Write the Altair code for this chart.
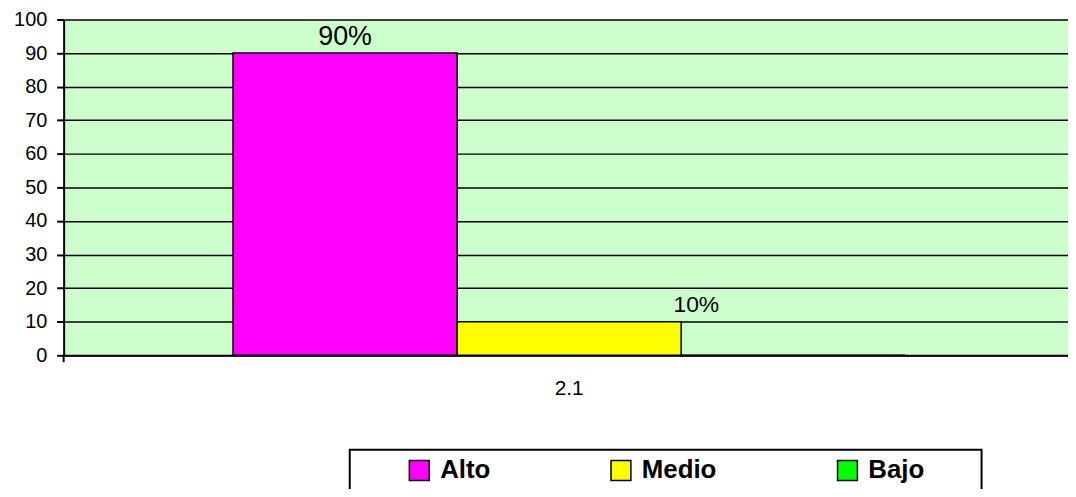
import altair as alt
import pandas as pd

categories = ["2.1"]
levels = ["Alto", "Medio", "Bajo"]
values = [90, 10, 0]
labels = ["90%", "10%", ""]
colors = ["#FF00FF", "#FFFF00", "#00FF00"]
y_ticks = list(range(0, 101, 10))

df = pd.DataFrame({
    "cat": categories * len(levels),
    "level": levels,
    "value": values,
    "label": labels,
})
deco = pd.DataFrame({"k": [0]})

FONT = "Arial, Liberation Sans, sans-serif"

x = alt.X(
    "cat:N", title=None,
    scale=alt.Scale(paddingInner=0, paddingOuter=0.247, align=0.51),
    axis=alt.Axis(labelAngle=0, labelFontSize=21, labelColor="black", ticks=False,
                  domainColor="black", domainWidth=2, labelPadding=22, labelFont=FONT),
)
xo = alt.XOffset("level:N", scale=alt.Scale(domain=levels, paddingInner=0, paddingOuter=0))
y = alt.Y(
    "value:Q", title=None,
    scale=alt.Scale(domain=[0, 100], nice=False),
    axis=alt.Axis(values=y_ticks, grid=True, gridColor="black", gridWidth=1.5, gridOpacity=1,
                  domainColor="black", domainWidth=2, tickColor="black", tickWidth=2,
                  tickSize=7, labelFontSize=20, labelPadding=10, labelColor="black",
                  labelFont=FONT),
)
color = alt.Color(
    "level:N",
    scale=alt.Scale(domain=levels, range=colors),
    legend=alt.Legend(
        orient="none", legendX=345, legendY=441, direction="horizontal", title=None,
        symbolType="square", symbolSize=400, symbolStrokeColor="black",
        symbolStrokeWidth=1.5, symbolOpacity=1, labelFontSize=26, labelFontWeight="bold",
        labelFont=FONT, labelColor="black", labelOffset=8, columnPadding=118,
        padding=0, gridAlign="each",
    ),
)

box = alt.Chart(deco).mark_rect(fill="white", stroke="black", strokeWidth=2).encode(
    x=alt.value(288), x2=alt.value(924), y=alt.value(433), y2=alt.value(483)
)

bars = alt.Chart(df).mark_bar(stroke="black", strokeWidth=1.5).encode(
    x=x, xOffset=xo, y=y, color=color
)

text_alto = alt.Chart(df).transform_filter(alt.datum.level == "Alto").mark_text(
    fontSize=27, dy=-8, baseline="alphabetic", font=FONT, color="black"
).encode(x=x, xOffset=xo, y=y, text="label:N")

text_medio = alt.Chart(df).transform_filter(alt.datum.level == "Medio").mark_text(
    fontSize=23, dy=-10, dx=128, baseline="alphabetic", font=FONT, color="black"
).encode(x=x, xOffset=xo, y=y, text="label:N")

tick = alt.Chart(deco).mark_rule(color="black", strokeWidth=2).encode(
    x=alt.value(0), y=alt.value(338), y2=alt.value(345)
)

chart = alt.layer(box, bars, text_alto, text_medio, tick).properties(
    width=1011, height=338,
    background="white",
    autosize=alt.AutoSizeParams(type="none"),
    padding={"left": 56, "top": 10, "right": 0, "bottom": 133},
).configure_view(stroke="transparent", fill="#CCFFCC")

chart.save("out.html", embed_options={"renderer": "svg", "actions": False})
